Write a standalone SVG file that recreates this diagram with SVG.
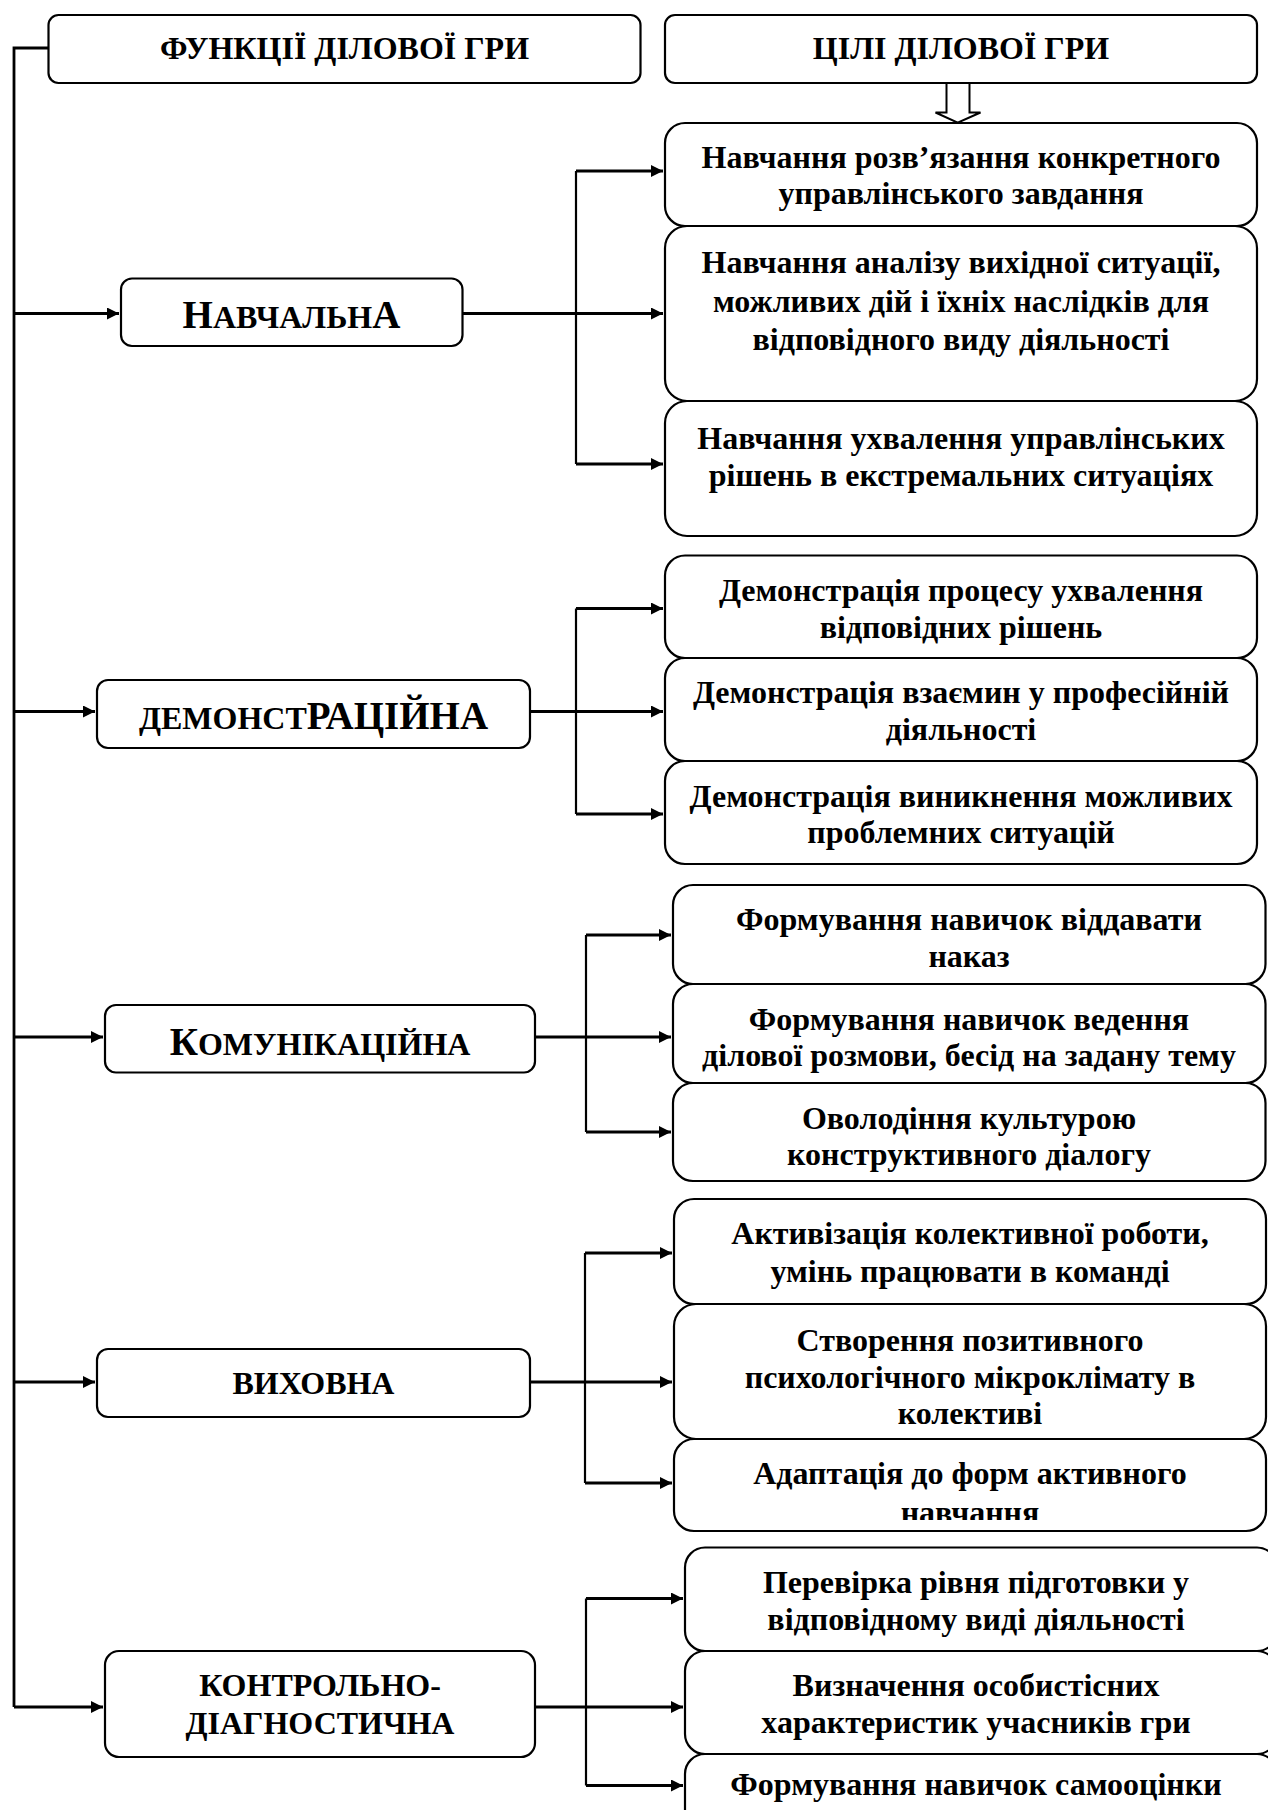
<svg xmlns="http://www.w3.org/2000/svg" width="1268" height="1810" viewBox="0 0 1268 1810">
<style>
.box{fill:#fff;stroke:#000;stroke-width:2.2}
.t,.n{font-family:"Liberation Serif","Times New Roman",serif;font-weight:bold;font-size:32px;text-anchor:middle;fill:#000}
.b{font-size:39px}
.c{fill:none;stroke:#000;stroke-width:2.8}
.v{fill:none;stroke:#000;stroke-width:2.2}
</style>
<defs>
<marker id="ah" markerWidth="14" markerHeight="14" refX="12" refY="6" orient="auto" markerUnits="userSpaceOnUse">
<path d="M0,0 L12,6 L0,12 Z" fill="#000"/>
</marker>
<clipPath id="clipV3"><rect x="674" y="1439" width="592" height="81"/></clipPath>
</defs>

<g id="connectors">
<path class="c" d="M48,48 H14 V1707"/>
<path class="c" d="M14,313.5 H119" marker-end="url(#ah)"/>
<path class="c" d="M14,711.5 H95" marker-end="url(#ah)"/>
<path class="c" d="M14,1037 H103" marker-end="url(#ah)"/>
<path class="c" d="M14,1382 H95" marker-end="url(#ah)"/>
<path class="c" d="M14,1707 H103" marker-end="url(#ah)"/>
<path d="M946.5,83 V112.5 H935.5 L957.7,122.7 L980.5,112.5 H969.5 V83" fill="#fff" stroke="#000" stroke-width="2"/>
<path class="c" d="M463,313.5 H663" marker-end="url(#ah)"/>
<path class="v" d="M576,171 V464"/>
<path class="c" d="M576,171 H663" marker-end="url(#ah)"/>
<path class="c" d="M576,464 H663" marker-end="url(#ah)"/>
<path class="c" d="M530,711.5 H663" marker-end="url(#ah)"/>
<path class="v" d="M576,608.5 V814"/>
<path class="c" d="M576,608.5 H663" marker-end="url(#ah)"/>
<path class="c" d="M576,814 H663" marker-end="url(#ah)"/>
<path class="c" d="M535,1037 H671" marker-end="url(#ah)"/>
<path class="v" d="M586,935 V1132"/>
<path class="c" d="M586,935 H671" marker-end="url(#ah)"/>
<path class="c" d="M586,1132 H671" marker-end="url(#ah)"/>
<path class="c" d="M530,1382 H672" marker-end="url(#ah)"/>
<path class="v" d="M585,1253 V1483"/>
<path class="c" d="M585,1253 H672" marker-end="url(#ah)"/>
<path class="c" d="M585,1483 H672" marker-end="url(#ah)"/>
<path class="c" d="M535,1707 H683" marker-end="url(#ah)"/>
<path class="v" d="M586,1598.5 V1785.5"/>
<path class="c" d="M586,1598.5 H683" marker-end="url(#ah)"/>
<path class="c" d="M586,1785.5 H683" marker-end="url(#ah)"/>
</g>

<g id="h-functions">
<rect class="box" x="48.5" y="15" width="592" height="68" rx="10"/>
<text class="t" x="344.5" y="59">ФУНКЦІЇ ДІЛОВОЇ ГРИ</text>
</g>
<g id="h-goals">
<rect class="box" x="665" y="15" width="592" height="68" rx="10"/>
<text class="t" x="961" y="59">ЦІЛІ ДІЛОВОЇ ГРИ</text>
</g>

<g id="n-navch">
<rect class="box" x="121" y="278.5" width="341.5" height="67.5" rx="11"/>
<text class="n" x="291.5" y="328"><tspan class="b">Н</tspan>АВЧАЛЬН<tspan class="b">А</tspan></text>
</g>
<g id="g-n1">
<rect class="box" x="665" y="123" width="592" height="103" rx="20"/>
<text class="t" x="961" y="168">Навчання розв’язання конкретного</text>
<text class="t" x="961" y="204">управлінського завдання</text>
</g>
<g id="g-n2">
<rect class="box" x="665" y="226" width="592" height="175" rx="22"/>
<text class="t" x="961" y="273">Навчання аналізу вихідної ситуації,</text>
<text class="t" x="961" y="312">можливих дій і їхніх наслідків для</text>
<text class="t" x="961" y="350">відповідного виду діяльності</text>
</g>
<g id="g-n3">
<rect class="box" x="665" y="401" width="592" height="135" rx="22"/>
<text class="t" x="961" y="449">Навчання ухвалення управлінських</text>
<text class="t" x="961" y="486">рішень в екстремальних ситуаціях</text>
</g>

<g id="n-demo">
<rect class="box" x="97" y="680" width="433" height="68" rx="11"/>
<text class="n" x="313.5" y="729">ДЕМОНСТ<tspan class="b">РАЦІЙНА</tspan></text>
</g>
<g id="g-d1">
<rect class="box" x="665" y="555.5" width="592" height="102.5" rx="20"/>
<text class="t" x="961" y="601">Демонстрація процесу ухвалення</text>
<text class="t" x="961" y="638">відповідних рішень</text>
</g>
<g id="g-d2">
<rect class="box" x="665" y="658" width="592" height="103" rx="20"/>
<text class="t" x="961" y="703">Демонстрація взаємин у професійній</text>
<text class="t" x="961" y="740">діяльності</text>
</g>
<g id="g-d3">
<rect class="box" x="665" y="761" width="592" height="103" rx="20"/>
<text class="t" x="961" y="807">Демонстрація виникнення можливих</text>
<text class="t" x="961" y="843">проблемних ситуацій</text>
</g>

<g id="n-komun">
<rect class="box" x="105" y="1005" width="430" height="67.5" rx="11"/>
<text class="n" x="320" y="1055"><tspan class="b">К</tspan>ОМУНІКАЦІЙНА</text>
</g>
<g id="g-k1">
<rect class="box" x="673" y="885" width="592.5" height="99" rx="20"/>
<text class="t" x="969" y="930">Формування навичок віддавати</text>
<text class="t" x="969" y="967">наказ</text>
</g>
<g id="g-k2">
<rect class="box" x="673" y="984" width="592.5" height="99" rx="20"/>
<text class="t" x="969" y="1030">Формування навичок ведення</text>
<text class="t" x="969" y="1066">ділової розмови, бесід на задану тему</text>
</g>
<g id="g-k3">
<rect class="box" x="673" y="1083" width="592.5" height="98" rx="20"/>
<text class="t" x="969" y="1129">Оволодіння культурою</text>
<text class="t" x="969" y="1165">конструктивного діалогу</text>
</g>

<g id="n-vykh">
<rect class="box" x="97" y="1349" width="433" height="68" rx="11"/>
<text class="n" x="313.5" y="1394">ВИХОВНА</text>
</g>
<g id="g-v1">
<rect class="box" x="674" y="1199" width="592" height="105" rx="20"/>
<text class="t" x="970" y="1244">Активізація колективної роботи,</text>
<text class="t" x="970" y="1282">умінь працювати в команді</text>
</g>
<g id="g-v2">
<rect class="box" x="674" y="1304" width="592" height="135" rx="22"/>
<text class="t" x="970" y="1351">Створення позитивного</text>
<text class="t" x="970" y="1388">психологічного мікроклімату в</text>
<text class="t" x="970" y="1424">колективі</text>
</g>
<g id="g-v3">
<rect class="box" x="674" y="1439" width="592" height="92" rx="20"/>
<text class="t" x="970" y="1484">Адаптація до форм активного</text>
<g clip-path="url(#clipV3)"><text class="t" x="970" y="1523">навчання</text></g>
</g>

<g id="n-kontr">
<rect class="box" x="105" y="1651" width="430" height="106" rx="14"/>
<text class="n" x="320" y="1696">КОНТРОЛЬНО-</text>
<text class="n" x="320" y="1734">ДІАГНОСТИЧНА</text>
</g>
<g id="g-c1">
<rect class="box" x="685" y="1547.5" width="592" height="103.5" rx="20"/>
<text class="t" x="976" y="1593">Перевірка рівня підготовки у</text>
<text class="t" x="976" y="1630">відповідному виді діяльності</text>
</g>
<g id="g-c2">
<rect class="box" x="685" y="1651" width="592" height="103" rx="20"/>
<text class="t" x="976" y="1696">Визначення особистісних</text>
<text class="t" x="976" y="1733">характеристик учасників гри</text>
</g>
<g id="g-c3">
<rect class="box" x="685" y="1754" width="592" height="80" rx="20"/>
<text class="t" x="976" y="1795">Формування навичок самооцінки</text>
</g>
</svg>
